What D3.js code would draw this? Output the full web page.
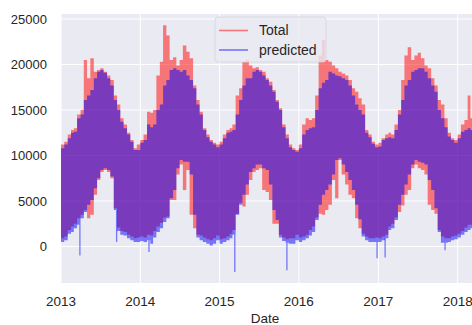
<!DOCTYPE html>
<html>
<head>
<meta charset="utf-8">
<script src="https://cdnjs.cloudflare.com/ajax/libs/d3/7.8.5/d3.min.js"></script>
<style>
  body { margin: 0; background: #fff; }
  text { font-family: "Liberation Sans", Arial, sans-serif; fill: #262626; }
</style>
</head>
<body>
<div id="chart"></div>
<script>
// Daily counts, summarised per half month (1st-15th, 16th-end) as the
// weekday high / weekend low envelope, Jan 2013 .. early Mar 2018.
const totalHigh = [
  11200, 11500, 12300, 12800, 13000, 14500, 15000, 20500, 18500, 20700, 19200, 19400,
  19600, 19200, 18800, 18300, 16600, 15600, 14100, 13400, 12500, 11700, 10800, 11200,
  11700, 12300, 14800, 14700, 15000, 18800, 20300, 24300, 23200, 20500, 20800, 19900,
  20500, 22100, 21400, 20700, 17700, 16100, 14800, 13000, 12300, 11700, 11400, 11200,
  11500, 12300, 12800, 13000, 13400, 16600, 17400, 20300, 20500, 19900, 19600, 19700,
  19400, 19200, 18500, 18100, 17200, 16100, 15200, 13400, 12300, 11200, 10800, 10600,
  11200, 13400, 14100, 13900, 14100, 16600, 21000, 22700, 20500, 20300, 19900, 19600,
  19200, 19000, 18800, 18300, 17400, 17000, 16300, 15600, 12800, 12300, 11500, 11200,
  11400, 11900, 12300, 12500, 12300, 13400, 15000, 18300, 21000, 21900, 20500, 21000,
  21300, 20700, 19900, 19600, 18500, 17700, 16100, 15600, 14100, 12500, 11900, 11700,
  12300, 13400, 13900, 16600, 14100
];
const totalLow = [
  900, 1100, 1800, 2200, 2500, 3100, 3500, 4000, 3100, 3500, 5700, 7300,
  8200, 8400, 8200, 7500, 4200, 2100, 1700, 1600, 1300, 1100, 900, 1000,
  1100, 1000, 1300, 1200, 1700, 2200, 2600, 3200, 3300, 5100, 5100, 7900,
  9000, 6200, 8400, 3500, 2000, 1300, 1200, 1000, 800, 700, 900, 1200,
  800, 900, 1100, 1400, 1800, 3600, 4800, 4400, 5700, 7300, 8200, 8400,
  8600, 6200, 6000, 5100, 2500, 2500, 1300, 1000, 800, 900, 900, 1300,
  1000, 1100, 1300, 1800, 2200, 3200, 3600, 3500, 4000, 4600, 7300, 5300,
  9500, 7900, 6800, 5700, 5300, 3100, 2000, 1400, 1100, 900, 900, 1000,
  900, 1100, 1300, 2200, 2500, 3200, 3800, 4500, 5700, 6200, 8600, 9000,
  8600, 8400, 7900, 4600, 4000, 3600, 1800, 1100, 900, 900, 1100, 1200,
  1400, 1700, 2100, 2400, 2400
];
const predHigh = [
  10800, 11200, 11900, 12500, 12600, 14100, 14500, 16100, 16600, 17200, 18500, 19200,
  19400, 19100, 18500, 17700, 16100, 15000, 13700, 13000, 12300, 11500, 10600, 10600,
  11400, 11700, 13400, 13100, 13400, 15000, 15600, 17700, 18300, 19400, 19600, 19400,
  19200, 19400, 18800, 18300, 17400, 15600, 14500, 12800, 12000, 11500, 11200, 10900,
  11200, 11900, 12500, 12600, 12800, 14500, 16100, 17700, 18500, 18500, 19200, 19400,
  19200, 18800, 18300, 17700, 17000, 15900, 15000, 13100, 11900, 10900, 10600, 10400,
  10800, 12300, 12800, 13000, 13100, 15000, 17400, 18000, 18300, 19200, 19000, 18800,
  18700, 18500, 18300, 17700, 16600, 15600, 15000, 14500, 12500, 12000, 11300, 10900,
  11000, 11700, 11900, 12000, 11900, 12800, 14500, 16100, 17700, 18300, 19200, 19400,
  19600, 19600, 19200, 18500, 17700, 17000, 15000, 14100, 13100, 12100, 11700, 11400,
  11900, 12600, 12800, 13000, 12800
];
const predLow = [
  500, 700, 1400, 1600, 2000, 2400, 3100, 3800, 4600, 5100, 6400, 7500,
  8400, 8600, 8400, 7700, 4000, 1700, 1300, 1200, 900, 700, 500, 500,
  600, 500, 700, 300, 1000, 1600, 2000, 2700, 3100, 5300, 6200, 8600,
  9500, 9300, 9300, 7900, 3500, 1000, 700, 500, 300, 100, 300, 700,
  300, 500, 700, 900, 1300, 3500, 4600, 5700, 6800, 8200, 8600, 9000,
  9000, 8600, 8400, 6800, 4000, 2900, 1000, 600, 400, 300, 300, 700,
  500, 700, 900, 1200, 1600, 2900, 4600, 5700, 6200, 6800, 7900, 9500,
  9700, 9000, 8200, 7300, 6200, 4600, 3000, 1100, 700, 500, 500, 500,
  500, 700, 900, 1800, 2000, 2900, 4600, 5700, 6800, 7900, 9000, 9500,
  9300, 9200, 9000, 7300, 6200, 4200, 1600, 400, 400, 500, 700, 800,
  1000, 1300, 1600, 1800, 2000
];
// single days where the prediction drops well below the band
const predDips = [
  ['2013-03-29', -1000], ['2013-09-14', 500], ['2014-02-10', -600],
  ['2015-03-12', -2800], ['2015-11-07', -2600], ['2016-12-26', -1300],
  ['2017-02-01', -1200], ['2017-11-04', -400]
];
const yearTicks = [2013, 2014, 2015, 2016, 2017, 2018];
const valueTicks = [0, 5000, 10000, 15000, 20000, 25000];
const seriesNames = ['Total', 'predicted'];
const seriesColors = ['red', 'blue'];

const width = 472, height = 325;
const plotLeft = 61, plotRight = 472, plotTop = 14, plotBottom = 283;

// half-month period boundaries
const periodStarts = [];
for (let yr = 2013; yr <= 2018; yr++) {
  for (let m = 0; m < 12; m++) {
    periodStarts.push(new Date(Date.UTC(yr, m, 1)), new Date(Date.UTC(yr, m, 16)));
  }
}
periodStarts.length = totalHigh.length;
const periodEnds = periodStarts.map((d, i) =>
  i < periodStarts.length - 1 ? periodStarts[i + 1] : new Date(Date.UTC(2018, 2, 16)));

const x = d3.scaleUtc()
  .domain([new Date(Date.UTC(2013, 0, 1)), new Date(Date.UTC(2018, 2, 8))])
  .range([plotLeft, plotRight]);
const y = d3.scaleLinear()
  .domain([-4011, 25549])
  .range([plotBottom, plotTop]);

const svg = d3.select('#chart').append('svg')
  .attr('width', width)
  .attr('height', height);

svg.append('rect')
  .attr('x', plotLeft).attr('y', plotTop)
  .attr('width', plotRight - plotLeft + 2).attr('height', plotBottom - plotTop)
  .attr('fill', '#EAEAF2');

svg.append('clipPath').attr('id', 'plot-clip')
  .append('rect')
  .attr('x', plotLeft).attr('y', plotTop)
  .attr('width', plotRight - plotLeft + 2).attr('height', plotBottom - plotTop);

// grid
const grid = svg.append('g').attr('stroke', '#fff').attr('stroke-width', 1);
grid.selectAll('.hgrid').data(valueTicks).enter().append('line')
  .attr('x1', plotLeft).attr('x2', plotRight + 2)
  .attr('y1', d => y(d)).attr('y2', d => y(d));
grid.selectAll('.vgrid').data(yearTicks).enter().append('line')
  .attr('x1', d => x(new Date(Date.UTC(d, 0, 1)))).attr('x2', d => x(new Date(Date.UTC(d, 0, 1))))
  .attr('y1', plotTop).attr('y2', plotBottom);

// series bands
function stepPoints(lo, hi) {
  return periodStarts.flatMap((d, i) => [
    { date: d, lo: lo[i], hi: hi[i] },
    { date: periodEnds[i], lo: lo[i], hi: hi[i] }
  ]);
}
const band = d3.area()
  .x(d => x(d.date))
  .y0(d => y(d.lo))
  .y1(d => y(d.hi));

const series = [stepPoints(totalLow, totalHigh), stepPoints(predLow, predHigh)];
const g = svg.append('g').attr('clip-path', 'url(#plot-clip)');
series.forEach((pts, i) => {
  g.append('path')
    .attr('d', band(pts))
    .attr('fill', seriesColors[i])
    .attr('fill-opacity', 0.5);
});

const parseDay = d3.utcParse('%Y-%m-%d');
const findPeriod = d3.bisector(d => d).right;
g.selectAll('.dip').data(predDips).enter().append('line')
  .attr('x1', d => x(parseDay(d[0]))).attr('x2', d => x(parseDay(d[0])))
  .attr('y1', d => y(d[1]))
  .attr('y2', d => y(predLow[findPeriod(periodStarts, parseDay(d[0])) - 1]))
  .attr('stroke', 'blue').attr('stroke-opacity', 0.5).attr('stroke-width', 1.3);

// axis labels
svg.selectAll('.ylab').data(valueTicks).enter().append('text')
  .attr('x', 47).attr('y', d => y(d))
  .attr('dy', '0.35em')
  .attr('text-anchor', 'end')
  .style('font-size', '13px')
  .text(d => d);

svg.selectAll('.xlab').data(yearTicks).enter().append('text')
  .attr('x', d => x(new Date(Date.UTC(d, 0, 1))))
  .attr('y', 301)
  .attr('dy', '0.35em')
  .attr('text-anchor', 'middle')
  .style('font-size', '13.5px')
  .text(d => d);

svg.append('text')
  .attr('x', 265).attr('y', 318)
  .attr('dy', '0.35em')
  .attr('text-anchor', 'middle')
  .style('font-size', '13.5px')
  .text('Date');

// legend
const legend = svg.append('g');
legend.append('rect')
  .attr('x', 215).attr('y', 17)
  .attr('width', 111).attr('height', 45)
  .attr('rx', 3)
  .attr('fill', '#EAEAF2').attr('fill-opacity', 0.8)
  .attr('stroke', '#d4d4dc').attr('stroke-width', 0.8);
seriesNames.forEach((name, i) => {
  const ly = 30.5 + i * 19.5;
  legend.append('line')
    .attr('x1', 219).attr('x2', 248)
    .attr('y1', ly).attr('y2', ly)
    .attr('stroke', seriesColors[i]).attr('stroke-opacity', 0.5)
    .attr('stroke-width', 1.6);
  legend.append('text')
    .attr('x', 259).attr('y', ly)
    .attr('dy', '0.35em')
    .style('font-size', '14px')
    .text(name);
});
</script>
</body>
</html>
